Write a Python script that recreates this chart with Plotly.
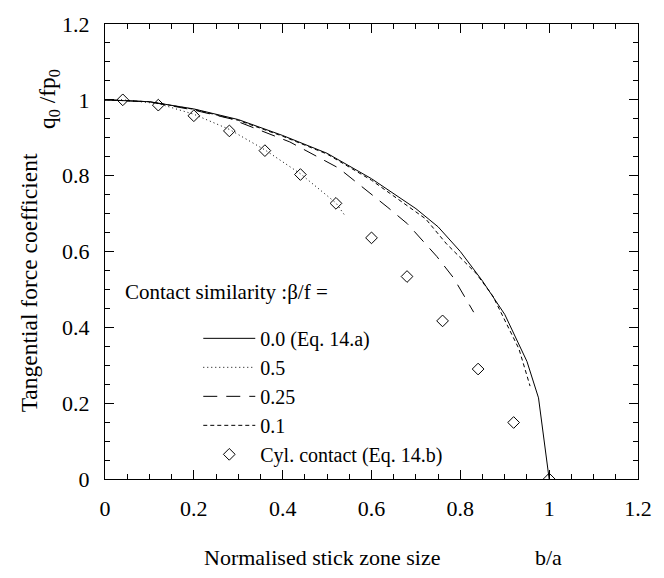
import plotly.graph_objects as go

# ---- data ----
x_eq14a = [0.0, 0.1, 0.2, 0.3, 0.4, 0.5, 0.6, 0.7, 0.75, 0.8, 0.85, 0.9, 0.95, 0.976, 1.0]
y_eq14a = [1.0, 0.995, 0.976, 0.948, 0.906, 0.859, 0.792, 0.713, 0.665, 0.60, 0.522, 0.434, 0.31, 0.214, 0.0]

x_b05 = [0.0, 0.04, 0.12, 0.2, 0.28, 0.36, 0.44, 0.52, 0.54]
y_b05 = [1.0, 1.0, 0.99, 0.962, 0.922, 0.868, 0.805, 0.728, 0.695]

x_b025 = [0.0, 0.1, 0.2, 0.283, 0.416, 0.526, 0.637, 0.681, 0.747, 0.785, 0.83]
y_b025 = [1.0, 0.995, 0.973, 0.95, 0.889, 0.82, 0.716, 0.673, 0.587, 0.53, 0.44]

x_b01 = [0.0, 0.1, 0.2, 0.3, 0.4, 0.5, 0.6, 0.7, 0.722, 0.769, 0.835, 0.873, 0.932, 0.957]
y_b01 = [1.0, 0.995, 0.975, 0.946, 0.904, 0.857, 0.788, 0.705, 0.686, 0.62, 0.543, 0.483, 0.343, 0.245]

x_cyl = [0.04, 0.12, 0.2, 0.28, 0.36, 0.44, 0.52, 0.6, 0.68, 0.76, 0.84, 0.92, 1.0]
y_cyl = [1.0, 0.986, 0.958, 0.918, 0.866, 0.803, 0.727, 0.636, 0.534, 0.417, 0.29, 0.149, 0.0]

x_ticks = [0, 0.2, 0.4, 0.6, 0.8, 1, 1.2]
x_ticktext = ["0", "0.2", "0.4", "0.6", "0.8", "1", "1.2"]
y_ticks = [0, 0.2, 0.4, 0.6, 0.8, 1, 1.2]
y_ticktext = ["0", "0.2", "0.4", "0.6", "0.8", "1", "1.2"]

FONT = "Liberation Serif"
FS = 22

fig = go.Figure()
fig.add_trace(go.Scatter(x=x_eq14a, y=y_eq14a, mode="lines", name="0.0 (Eq. 14.a)",
                         line=dict(color="black", width=1)))
fig.add_trace(go.Scatter(x=x_b05, y=y_b05, mode="lines", name="0.5",
                         line=dict(color="black", width=1, dash="1px,3px")))
fig.add_trace(go.Scatter(x=x_b025, y=y_b025, mode="lines", name="0.25",
                         line=dict(color="black", width=1, dash="14px,9px")))
fig.add_trace(go.Scatter(x=x_b01, y=y_b01, mode="lines", name="0.1",
                         line=dict(color="black", width=1, dash="4px,3px")))
fig.add_trace(go.Scatter(x=x_cyl, y=y_cyl, mode="markers", name="Cyl. contact (Eq. 14.b)",
                         marker=dict(symbol="diamond-open", size=9, color="black",
                                     line=dict(width=1, color="black"))))

axis_common = dict(
    showgrid=False, zeroline=False, showline=True, linecolor="black", linewidth=1,
    mirror="ticks", ticks="inside", ticklen=9, tickcolor="black", tickwidth=1,
    tickfont=dict(family=FONT, size=FS, color="black"),
    minor=dict(dtick=0.05, ticks="inside", ticklen=5, tickcolor="black", tickwidth=1),
    ticklabelstandoff=10,
)

fig.update_xaxes(range=[0, 1.2], tickvals=x_ticks, ticktext=x_ticktext, **axis_common)
fig.update_yaxes(range=[0, 1.2], tickvals=y_ticks, ticktext=y_ticktext, **axis_common)

fig.update_layout(
    width=664, height=578,
    margin=dict(l=105, r=16, t=17, b=99),
    plot_bgcolor="white", paper_bgcolor="white",
    font=dict(family=FONT, size=FS, color="black"),
    showlegend=True,
    legend=dict(x=0.175, y=0.352, xanchor="left", yanchor="top",
                bgcolor="rgba(0,0,0,0)", borderwidth=0,
                font=dict(family=FONT, size=20, color="black"),
                itemwidth=52, tracegroupgap=0),
    annotations=[
        dict(text="Contact similarity :β/f =", x=0.033, y=0.41, xref="paper", yref="paper",
             xanchor="left", yanchor="middle", showarrow=False,
             font=dict(family=FONT, size=21, color="black")),
        dict(text="Tangential force coefficient", x=-0.1436, y=0.431, xref="paper", yref="paper",
             xanchor="center", yanchor="middle", textangle=-90, showarrow=False,
             font=dict(family=FONT, size=23.5, color="black")),
        dict(text="q<sub>0</sub> /fp<sub>0</sub>", x=-0.105, y=0.835, xref="paper", yref="paper",
             xanchor="center", yanchor="middle", textangle=-90, showarrow=False,
             font=dict(family=FONT, size=23.5, color="black")),
        dict(text="Normalised stick zone size", x=0.408, y=-0.173, xref="paper", yref="paper",
             xanchor="center", yanchor="middle", showarrow=False,
             font=dict(family=FONT, size=FS, color="black")),
        dict(text="b/a", x=0.832, y=-0.173, xref="paper", yref="paper",
             xanchor="center", yanchor="middle", showarrow=False,
             font=dict(family=FONT, size=FS, color="black")),
    ],
)

fig.write_html("out.html")
